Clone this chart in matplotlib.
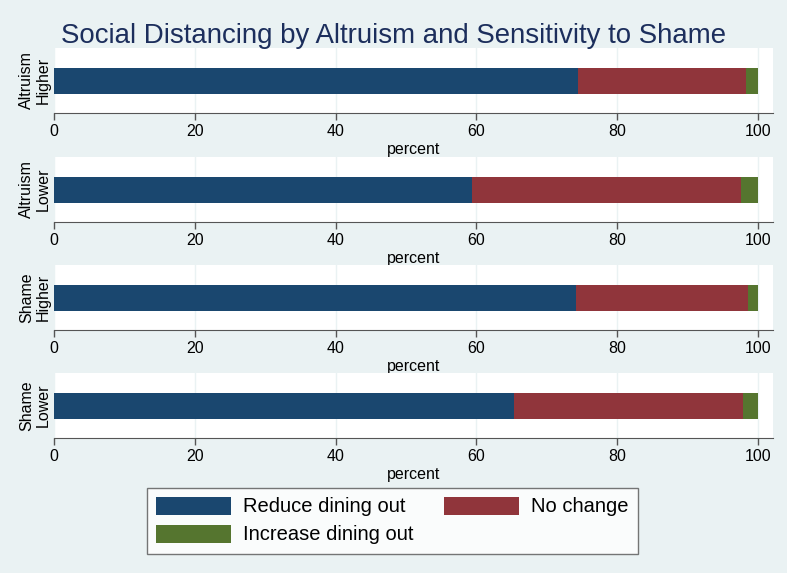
import matplotlib
matplotlib.use('Agg')
import matplotlib.pyplot as plt
from matplotlib.patches import Patch

plt.rcParams['font.family'] = ['Liberation Sans', 'DejaVu Sans']

# 数据：每组三类的百分比
groups = ['Altruism\nHigher', 'Altruism\nLower', 'Shame\nHigher', 'Shame\nLower']
reduce_pct = [74.4, 59.4, 74.1, 65.3]
no_change_pct = [23.9, 38.2, 24.5, 32.5]
increase_pct = [1.7, 2.4, 1.4, 2.2]
series_names = ['Reduce dining out', 'No change', 'Increase dining out']
xticks = [0, 20, 40, 60, 80, 100]

navy = '#1A476F'
maroon = '#90353B'
green = '#55752F'
bg = '#EAF2F3'

W, H = 787, 573
fig = plt.figure(figsize=(W / 100, H / 100), dpi=100, facecolor=bg)

fig.text(0.5, 1 - 36 / H, 'Social Distancing by Altruism and Sensitivity to Shame',
         ha='center', va='center', fontsize=19.9, color='#1C2E5C')

left, right = 54, 773
xmax = (right - left) / 7.04
tops = [48, 157, 265, 373]
panel_h = 65

for i, name in enumerate(groups):
    ax = fig.add_axes([left / W, 1 - (tops[i] + panel_h) / H, (right - left) / W, panel_h / H])
    ax.set_facecolor('white')
    for x in xticks:
        ax.axvline(x, color=bg, lw=1, zorder=0)
    ax.barh([0.5], [reduce_pct[i]], height=0.4, color=navy, zorder=2)
    ax.barh([0.5], [no_change_pct[i]], left=[reduce_pct[i]], height=0.4, color=maroon, zorder=2)
    ax.barh([0.5], [increase_pct[i]], left=[reduce_pct[i] + no_change_pct[i]], height=0.4,
            color=green, zorder=2)
    ax.set_xlim(0, xmax)
    ax.set_ylim(0, 1)
    ax.set_xticks(xticks)
    ax.set_xticklabels([str(x) for x in xticks], fontsize=11.5)
    ax.set_yticks([0.5])
    ax.set_yticklabels([name], rotation=90, va='center', ha='right', multialignment='center',
                       fontsize=11.5)
    ax.tick_params(axis='y', length=0, pad=2)
    ax.tick_params(axis='x', length=5, width=1, color='#555555', pad=3)
    for s in ['top', 'right', 'left']:
        ax.spines[s].set_visible(False)
    ax.spines['bottom'].set_color('#555555')
    ax.set_xlabel('percent', fontsize=11.5, labelpad=2)

handles = [Patch(facecolor=navy), Patch(facecolor=green), Patch(facecolor=maroon)]
labels = [series_names[0], series_names[2], series_names[1]]
leg = fig.legend(handles, labels, ncol=2, loc='center', bbox_to_anchor=(392.5 / W, 1 - 520.5 / H),
                 fontsize=14.5, frameon=True, fancybox=False, edgecolor='#555555',
                 handlelength=3.73, handleheight=1.0, handletextpad=0.6, columnspacing=1.5,
                 labelspacing=0.4, borderpad=0.45)
leg.get_frame().set_linewidth(1)

fig.savefig('out.png', dpi=100, facecolor=bg)
